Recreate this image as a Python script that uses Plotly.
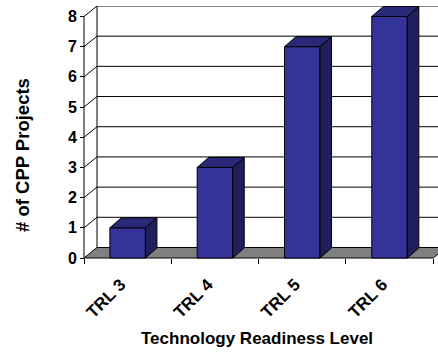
import plotly.graph_objects as go

# Projects per technology readiness level
categories = ["TRL 3", "TRL 4", "TRL 5", "TRL 6"]
projects = [1, 3, 7, 8]
y_ticks = [0, 1, 2, 3, 4, 5, 6, 7, 8]

# 3-D look: depth offsets (in data units) of the walls and of the bars
WALL_DX, WALL_DY = 0.149, 0.348
BAR_W = 0.407
BAR_DX, BAR_DY = 0.132, 0.331

FRONT = "#333399"
TOP = "#29297a"
SIDE = "#1f1f5c"
FLOOR = "#808080"
FONT = "Liberation Sans, Arial, sans-serif"

xs = list(range(len(categories)))
x_left, x_right = -0.5, len(categories) - 0.5
y_max = max(y_ticks)

fig = go.Figure()

# front faces of the bars
fig.add_trace(go.Bar(
    x=xs, y=projects, width=BAR_W,
    marker=dict(color=FRONT, line=dict(color="black", width=1)),
    hoverinfo="skip", showlegend=False,
))

# top and right-hand faces, built from the same values
top_x, top_y, side_x, side_y = [], [], [], []
for x, v in zip(xs, projects):
    x0, x1 = x - BAR_W / 2, x + BAR_W / 2
    top_x += [x0, x1, x1 + BAR_DX, x0 + BAR_DX, x0, None]
    top_y += [v, v, v + BAR_DY, v + BAR_DY, v, None]
    side_x += [x1, x1 + BAR_DX, x1 + BAR_DX, x1, x1, None]
    side_y += [0, BAR_DY, v + BAR_DY, v, 0, None]

for fx, fy, col in [(top_x, top_y, TOP), (side_x, side_y, SIDE)]:
    fig.add_trace(go.Scatter(
        x=fx, y=fy, mode="lines", fill="toself", fillcolor=col,
        line=dict(color="black", width=1), hoverinfo="skip",
        showlegend=False,
    ))

# dummy trace so the boundary-tick axis is drawn
fig.add_trace(go.Scatter(x=[None], y=[None], xaxis="x2", showlegend=False,
                         hoverinfo="skip"))

shapes = []
# floor
shapes.append(dict(
    type="path", xref="x", yref="y", layer="below",
    path=(f"M {x_left},0 L {x_right},0 L {x_right + WALL_DX},{WALL_DY} "
          f"L {x_left + WALL_DX},{WALL_DY} Z"),
    fillcolor=FLOOR, line=dict(color="black", width=1),
))
# back wall left edge
shapes.append(dict(
    type="line", xref="x", yref="y", layer="below",
    x0=x_left + WALL_DX, y0=WALL_DY, x1=x_left + WALL_DX, y1=y_max + WALL_DY,
    line=dict(color="black", width=1),
))
# gridlines on the back wall and the side wall
for k in y_ticks[1:]:
    shapes.append(dict(
        type="line", xref="x", yref="y", layer="below",
        x0=x_left + WALL_DX, y0=k + WALL_DY, x1=x_right + 1, y1=k + WALL_DY,
        line=dict(color="black", width=1),
    ))
    shapes.append(dict(
        type="line", xref="x", yref="y", layer="below",
        x0=x_left, y0=k, x1=x_left + WALL_DX, y1=k + WALL_DY,
        line=dict(color="black", width=1),
    ))
# value axis line
shapes.append(dict(
    type="line", xref="x", yref="y", layer="below",
    x0=x_left, y0=0, x1=x_left, y1=y_max,
    line=dict(color="black", width=1),
))

# pixel geometry of the plot area
W, H = 438, 353
ML, MT, MB = 82, 6, 93
plot_w, plot_h = W - ML, H - MT - MB
px_per_cat = 87.3
px_per_unit = 30.19
xr0 = x_left - 2 / px_per_cat
xr1 = xr0 + plot_w / px_per_cat
yr0 = -2 / px_per_unit
yr1 = yr0 + plot_h / px_per_unit

fig.update_layout(
    width=W, height=H,
    margin=dict(l=ML, r=0, t=MT, b=MB),
    paper_bgcolor="white", plot_bgcolor="white",
    shapes=shapes,
    xaxis=dict(
        range=[xr0, xr1], tickvals=xs, ticktext=categories,
        ticks="outside", ticklen=9, tickcolor="rgba(0,0,0,0)",
        tickangle=-45, ticklabelshift=-7,
        showgrid=False, zeroline=False, showline=False,
        anchor="free", position=2 / plot_h,
        tickfont=dict(family=FONT, size=17, color="black", weight="bold"),
    ),
    xaxis2=dict(
        range=[xr0, xr1], overlaying="x", anchor="free", position=2 / plot_h,
        tickvals=[x - 0.5 for x in xs] + [x_right],
        ticks="outside", ticklen=5, tickcolor="black", showticklabels=False,
        showgrid=False, zeroline=False, showline=False,
    ),
    yaxis=dict(
        range=[yr0, yr1], tickvals=y_ticks,
        ticks="outside", ticklen=4, tickcolor="black",
        showgrid=False, zeroline=False, showline=False,
        anchor="free", position=2 / plot_w,
        tickfont=dict(family=FONT, size=16, color="black", weight="bold"),
    ),
    annotations=[
        dict(text="Technology Readiness Level", xref="paper", yref="paper",
             x=(257 - ML) / plot_w, y=(H - MB - 338) / plot_h,
             xanchor="center", yanchor="middle", showarrow=False,
             font=dict(family=FONT, size=17, color="black", weight="bold")),
        dict(text="# of CPP Projects", xref="paper", yref="paper",
             x=(22 - ML) / plot_w, y=(H - MB - 155) / plot_h, textangle=-90,
             xanchor="center", yanchor="middle", showarrow=False,
             font=dict(family=FONT, size=18.5, color="black", weight="bold")),
    ],
)

fig.write_html("out.html")
